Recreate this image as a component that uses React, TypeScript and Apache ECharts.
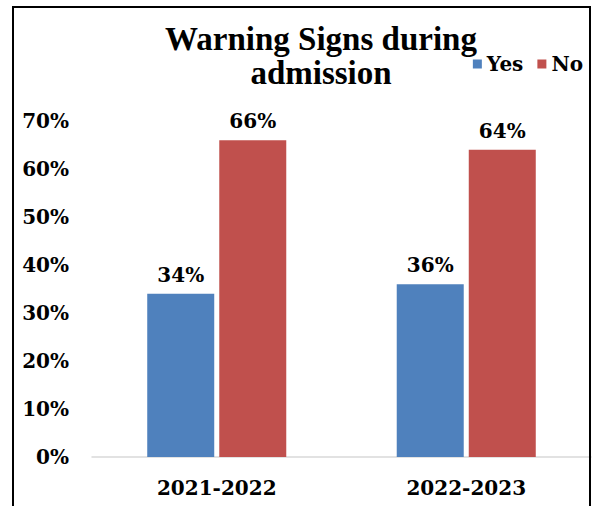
import React, { useEffect, useRef } from "react";
import * as echarts from "echarts";

const categories = ["2021-2022", "2022-2023"];
const yesValues = [34, 36];
const noValues = [66, 64];
const titleLines = ["Warning Signs during", "admission"];

const FONT = "'DejaVu Serif', serif";
const TITLE_FONT = "'Liberation Serif', serif";

export default function App() {
  const ref = useRef<HTMLDivElement>(null);

  useEffect(() => {
    if (!ref.current) return;
    const chart = echarts.init(ref.current, undefined, { renderer: "svg" });
    const labelStyle = {
      show: true,
      position: "top" as const,
      distance: 9,
      formatter: (p: any) => `${p.value}%`,
      color: "#000",
      fontFamily: FONT,
      fontWeight: "bold" as const,
      fontSize: 20,
    };
    chart.setOption({
      animation: false,
      backgroundColor: "#fff",
      title: {
        text: titleLines.join("\n"),
        left: 316,
        textAlign: "center",
        top: 17,
        textStyle: {
          fontFamily: TITLE_FONT,
          fontWeight: "bold",
          fontSize: 33,
          lineHeight: 34,
          color: "#000",
        },
      },
      legend: {
        right: 8,
        top: 49,
        itemWidth: 9,
        itemHeight: 9,
        itemGap: 14,
        icon: "rect",
        textStyle: {
          fontFamily: FONT,
          fontWeight: "bold",
          fontSize: 20,
          color: "#000",
        },
      },
      grid: { left: 92, right: 5, top: 121, bottom: 49, containLabel: false },
      xAxis: {
        type: "category",
        data: categories,
        axisLine: { lineStyle: { color: "#d9d9d9", width: 1.5 } },
        axisTick: { show: false },
        axisLabel: {
          margin: 21,
          fontFamily: FONT,
          fontWeight: "bold",
          fontSize: 20,
          color: "#000",
        },
      },
      yAxis: {
        type: "value",
        min: 0,
        max: 70,
        interval: 10,
        splitLine: { show: false },
        axisLine: { show: false },
        axisTick: { show: false },
        axisLabel: {
          margin: 23,
          formatter: "{value}%",
          fontFamily: FONT,
          fontWeight: "bold",
          fontSize: 20,
          color: "#000",
        },
      },
      graphic: [
        {
          type: "rect",
          shape: { x: 13, y: 7, width: 577, height: 520 },
          style: { fill: "none", stroke: "#000", lineWidth: 2 },
          z: 10,
        },
      ],
      series: [
        {
          name: "Yes",
          type: "bar",
          data: yesValues,
          barWidth: 67,
          barGap: "7.5%",
          itemStyle: { color: "#4F81BD" },
          label: labelStyle,
        },
        {
          name: "No",
          type: "bar",
          data: noValues,
          barWidth: 67,
          itemStyle: { color: "#C0504D" },
          label: labelStyle,
        },
      ],
    });
    return () => chart.dispose();
  }, []);

  return (
    <div
      ref={ref}
      style={{ position: "absolute", left: 0, top: 0, width: 596, height: 506 }}
    />
  );
}
